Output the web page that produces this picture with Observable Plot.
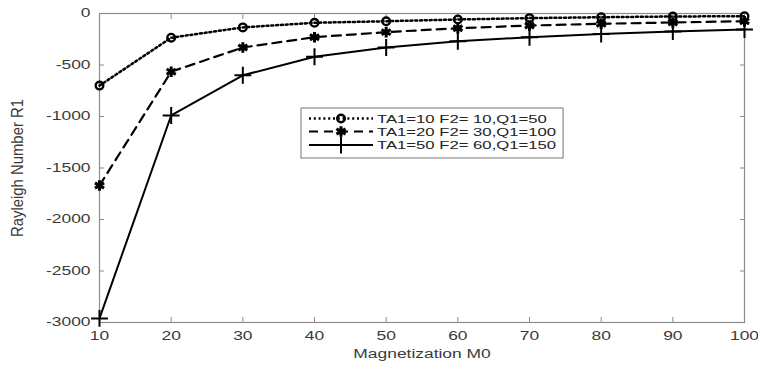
<!DOCTYPE html>
<html><head><meta charset="utf-8">
<script src="https://cdn.jsdelivr.net/npm/d3@7"></script>
<script src="https://cdn.jsdelivr.net/npm/@observablehq/plot@0.6"></script>
<style>body{margin:0;background:#fff} #chart{position:relative;width:758px;height:367px}</style>
</head><body><div id="chart"></div>
<script>
const m0 = [10, 20, 30, 40, 50, 60, 70, 80, 90, 100];
const seriesA = [-700, -235, -135, -90, -75, -58, -45, -36, -29, -26];
const seriesB = [-1670, -565, -330, -230, -181, -143, -117, -100, -87, -75];
const seriesC = [-2960, -990, -600, -420, -330, -270, -230, -200, -175, -155];
const seriesNames = ["TA1=10 F2= 10,Q1=50", "TA1=20 F2= 30,Q1=100", "TA1=50 F2= 60,Q1=150"];
const xTicks = [10, 20, 30, 40, 50, 60, 70, 80, 90, 100];
const yTicks = [0, -500, -1000, -1500, -2000, -2500, -3000];
const xLabel = "Magnetization M0";
const yLabel = "Rayleigh Number R1";

const styles = [
  {dash: "2,2.8", lw: 2.5, symbol: "circle", r: 3.8, sw: 2.4},
  {dash: "9,6", lw: 2.2, symbol: "asterisk", r: 5, sw: 3},
  {dash: null, lw: 2, symbol: "plus", r: 5.5, sw: 2}
];
const allSeries = [seriesA, seriesB, seriesC];
const rows = allSeries.flatMap((s, i) => s.map((v, j) => ({m0: m0[j], r1: v, k: i})));

const gray = "#8c8c8c";
const textColor = "#3a3a3a";
const fmt = d => String(d);

const marks = [
  Plot.frame({stroke: gray, strokeWidth: 1.2}),
  Plot.axisX({anchor: "bottom", ticks: xTicks, tickSize: -5, tickFormat: () => "", stroke: gray, label: null}),
  Plot.axisX({anchor: "top", ticks: xTicks, tickSize: -5, tickFormat: () => "", stroke: gray, label: null}),
  Plot.axisY({anchor: "left", ticks: yTicks, tickSize: -5, tickFormat: () => "", stroke: gray, label: null}),
  Plot.axisY({anchor: "right", ticks: yTicks, tickSize: -5, tickFormat: () => "", stroke: gray, label: null}),
  Plot.axisX({anchor: "bottom", ticks: xTicks, tickSize: 0, tickPadding: 9, fill: textColor, fontSize: 12, tickFormat: fmt,
    label: xLabel, labelAnchor: "center", labelOffset: 35, labelArrow: "none"}),
  Plot.axisY({anchor: "left", ticks: yTicks, tickSize: 0, tickPadding: 9, fill: textColor, fontSize: 12, tickFormat: fmt,
    label: yLabel, labelAnchor: "center", labelOffset: 88, labelArrow: "none"})
];
styles.forEach((st, i) => {
  const d = rows.filter(r => r.k === i);
  marks.push(Plot.line(d, {x: "m0", y: "r1", stroke: "black", strokeWidth: st.lw, strokeDasharray: st.dash}));
  marks.push(Plot.dot(d, {x: "m0", y: "r1", symbol: st.symbol, r: st.r, stroke: "black", strokeWidth: st.sw, fill: "none"}));
});

const chart = Plot.plot({
  width: 758, height: 367,
  marginLeft: 99, marginRight: 14, marginTop: 13, marginBottom: 45,
  style: {fontFamily: "'Liberation Sans', Arial, sans-serif", background: "white"},
  x: {domain: [10, 100]},
  y: {domain: [-3000, 0]},
  marks
});
document.getElementById("chart").appendChild(chart);

const stretch = 1.45;
// Legend
const svg = d3.select(chart);
const lg = svg.append("g").attr("class", "legend");
const bx = 301, by = 108, bh = 50, rowY = [118.5, 131.5, 145], tx = 377;
const box = lg.append("rect").attr("x", bx).attr("y", by).attr("height", bh).attr("width", 260)
  .attr("fill", "white").attr("stroke", gray).attr("stroke-width", 1.2);
let maxLen = 0;
styles.forEach((st, i) => {
  const y = rowY[i];
  lg.append("line").attr("x1", 309).attr("x2", 373).attr("y1", y).attr("y2", y)
    .attr("stroke", "black").attr("stroke-width", st.lw).attr("stroke-dasharray", st.dash);
  const sym = {circle: d3.symbolCircle, asterisk: d3.symbolAsterisk, plus: d3.symbolPlus}[st.symbol];
  lg.append("path").attr("d", d3.symbol(sym, Math.PI * st.r * st.r)())
    .attr("transform", `translate(341,${y})`).attr("fill", "none").attr("stroke", "black").attr("stroke-width", st.sw);
  const t = lg.append("text").attr("x", tx).attr("y", y).attr("dy", "0.36em")
    .attr("text-anchor", "start").attr("font-size", 11.5).attr("fill", "#222").text(seriesNames[i]);
  maxLen = Math.max(maxLen, t.node().getComputedTextLength() * stretch);
});
box.attr("width", tx + maxLen + 7 - bx);

// Horizontal stretch of text to mimic reference
chart.querySelectorAll("text").forEach(t => {
  const s = t.textContent.trim();
  if (!s) return;
  if (s === yLabel) {
    t.setAttribute("font-size", 16);
    t.setAttribute("textLength", 138);
    t.setAttribute("lengthAdjust", "spacingAndGlyphs");
    return;
  }
  const len = t.getComputedTextLength();
  t.setAttribute("textLength", len * stretch);
  t.setAttribute("lengthAdjust", "spacingAndGlyphs");
});
</script>
</body></html>
